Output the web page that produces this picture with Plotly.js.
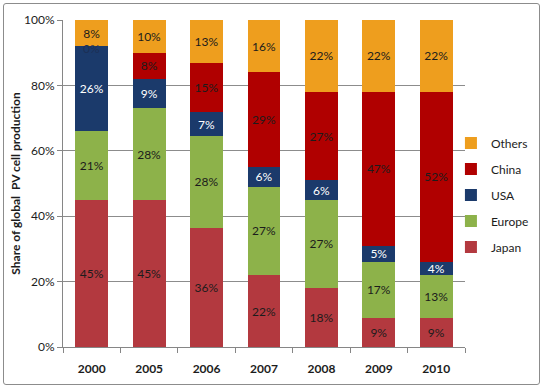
<!DOCTYPE html>
<html><head><meta charset="utf-8">
<script src="https://cdn.plot.ly/plotly-3.0.1.min.js"></script>
<style>
html,body{margin:0;padding:0;background:#fff;}
#frame{position:absolute;left:3px;top:3px;width:537px;height:382px;border:1px solid #8c8c8c;border-radius:3px;box-sizing:border-box;}
#chart{position:absolute;left:0;top:0;width:546px;height:390px;}
</style>
</head><body>
<div id="frame"></div>
<div id="chart"></div>
<script>
const years = ['2000','2005','2006','2007','2008','2009','2010'];
const japan  = [45, 45, 36, 22, 18, 9, 9];
const europe = [21, 28, 28, 27, 27, 17, 13];
const usa    = [26, 9, 7, 6, 6, 5, 4];
const china  = [0, 8, 15, 29, 27, 47, 52];
const others = [8, 10, 13, 16, 22, 22, 22];
const yTicks = [0, 20, 40, 60, 80, 100];
const yTickLabels = ['0%', '20%', '40%', '60%', '80%', '100%'];

const FONT = 'Lato, "Open Sans", sans-serif';
const series = [
  {name:'Japan', y:japan, color:'#B3393F', txt:'#1c1c1c'},
  {name:'Europe', y:europe, color:'#8DB24A', txt:'#1c1c1c'},
  {name:'USA', y:usa, color:'#1B3A6B', txt:'#ffffff'},
  {name:'China', y:china, color:'#B00000', txt:'#1c1c1c'},
  {name:'Others', y:others, color:'#EE9E1E', txt:'#1c1c1c'}
];
const traces = series.map((s,i) => ({
  type:'bar', name:s.name, x:years, y:s.y,
  text:s.y.map(v => v > 0 ? v + '%' : ''),
  textposition:'inside', insidetextanchor:'middle', textangle:0,
  constraintext:'none',
  textfont:{family:FONT, size:12, color:s.txt},
  marker:{color:s.color, line:{width:0}},
  legendgroup:'g'+i,
  legendrank:series.length - i,
  hoverinfo:'none'
}));

// zero-height segment labels (e.g. China 2000) as annotations at stack position (percent-normalized)
const annotations = [];
years.forEach((yr, j) => {
  if (china[j] === 0) {
    const total = japan[j] + europe[j] + usa[j] + china[j] + others[j];
    const base = (japan[j] + europe[j] + usa[j]) / total * 100;
    annotations.push({x:j, y:base, xref:'x', yref:'y', text:'0%', showarrow:false, yshift:-2,
      font:{family:FONT, size:12, color:'#1B2F55'}});
  }
});

const layout = {
  width:546, height:390,
  margin:{l:63, r:69, t:20, b:43},
  paper_bgcolor:'rgba(0,0,0,0)', plot_bgcolor:'rgba(0,0,0,0)',
  barmode:'stack', barnorm:'percent', bargap:0.43,
  showlegend:true,
  legend:{traceorder:'grouped', tracegroupgap:7, x:0.965, xanchor:'left', y:0.668, yanchor:'top',
    font:{family:FONT, size:12, color:'#1c1c1c'}, bgcolor:'rgba(0,0,0,0)', itemwidth:30},
  xaxis:{type:'category', range:[-0.5, years.length - 0.5], showline:true, linecolor:'#868686', linewidth:1,
    ticks:'outside', ticklen:5, tickcolor:'#868686', tickson:'boundaries', ticklabelstandoff:11,
    tickfont:{family:FONT, size:12, color:'#1c1c1c', weight:'bold'}, showgrid:false, fixedrange:true},
  yaxis:{range:[0,100], tickvals:yTicks, ticktext:yTickLabels, showline:true, linecolor:'#868686', linewidth:1,
    ticks:'outside', ticklen:5, tickcolor:'#868686', showgrid:true, gridcolor:'#8c8c8c', gridwidth:1,
    tickfont:{family:FONT, size:12, color:'#1c1c1c'}, zeroline:false,
    title:{text:'Share of global  PV cell production', font:{family:FONT, size:12, color:'#1c1c1c', weight:'bold'}, standoff:0},
    fixedrange:true},
  annotations:annotations,
  font:{family:FONT}
};
Plotly.newPlot('chart', traces, layout, {displayModeBar:false, staticPlot:true});
</script>
</body></html>
